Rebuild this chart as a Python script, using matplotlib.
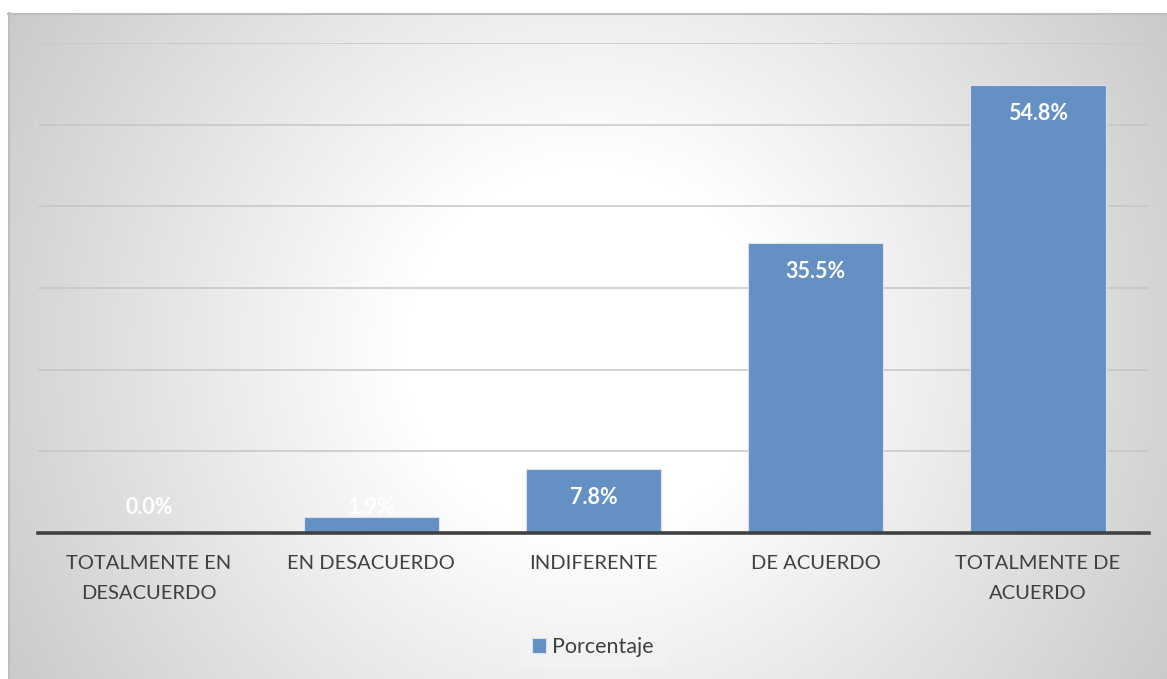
import numpy as np
import matplotlib
matplotlib.use("Agg")
import matplotlib.pyplot as plt

plt.rcParams["font.family"] = ["Lato", "DejaVu Sans"]

categories = ["TOTALMENTE EN\nDESACUERDO", "EN DESACUERDO", "INDIFERENTE",
              "DE ACUERDO", "TOTALMENTE DE\nACUERDO"]
porcentaje = [0.0, 1.9, 7.8, 35.5, 54.8]
series_name = "Porcentaje"

W, H = 1167, 679
fig = plt.figure(figsize=(W / 100, H / 100), dpi=100)
fig.patch.set_facecolor("white")

# radial background of the chart area
bg = fig.add_axes([0, 0, 1, 1])
bg.set_xlim(0, W)
bg.set_ylim(H, 0)
bg.axis("off")
x0, y0, x1, y1 = 8, 13, W, H
xx, yy = np.meshgrid(np.arange(x0, x1), np.arange(y0, y1))
cx, cy = 588, 350
r = np.hypot(xx - cx, yy - cy)
t = np.clip((r - 185) / (727 - 185), 0, 1)
shade = 1.0 - t * (1.0 - 196 / 255)
img = np.dstack([shade, shade, shade])
bg.imshow(img, extent=(x0, x1, y1, y0), interpolation="bilinear", zorder=0)
bg.plot([x0, x1], [y0 + 0.5, y0 + 0.5], color="#bdbdbd", lw=1.5, zorder=1)
bg.plot([x0 + 0.5, x0 + 0.5], [y0, y1], color="#bdbdbd", lw=1.5, zorder=1)

# plot area
left, right, top, base = 38, 1149, 43, 533
ax = fig.add_axes([left / W, 1 - base / H, (right - left) / W, (base - top) / H])
ax.patch.set_alpha(0)
ax.set_ylim(0, 60)
ax.set_xlim(-0.5, len(categories) - 0.5)
ax.set_yticks(np.arange(0, 61, 10))
ax.yaxis.grid(True, color="#c6c6c6", lw=1.1)
ax.set_axisbelow(True)
ax.tick_params(axis="y", length=0, labelleft=False)
for s in ["left", "right", "top"]:
    ax.spines[s].set_visible(False)
ax.spines["bottom"].set_color("#404040")
ax.spines["bottom"].set_linewidth(2.6)
ax.spines["bottom"].set_zorder(5)

xpos = np.arange(len(categories))
bars = ax.bar(xpos, porcentaje, width=0.61, color="#6590c4",
              edgecolor="#d9e2ef", linewidth=0.8, label=series_name, zorder=3)

ax.set_xticks(xpos)
ax.set_xticklabels(categories, fontsize=14.5, color="#404040", linespacing=1.93)
ax.tick_params(axis="x", length=0, pad=16)

# value labels inside the bar ends
px_per_unit = (base - top) / 60
for xi, v in zip(xpos, porcentaje):
    ly = max(v - 28 / px_per_unit, 26 / px_per_unit)
    ax.text(xi, ly, f"{v:.1f}%", ha="center", va="center", color="white",
            fontsize=15.5, fontweight="bold", zorder=4)

leg = fig.legend(handles=[bars], labels=[series_name], loc="center",
                 bbox_to_anchor=(593 / W, 1 - 647 / H), frameon=True,
                 fontsize=15.5, handlelength=0.65, handleheight=0.65,
                 handletextpad=0.3, borderpad=0.55)
leg.get_frame().set_facecolor("#f4f4f4")
leg.get_frame().set_edgecolor("none")
leg.get_frame().set_alpha(0.6)
for txt in leg.get_texts():
    txt.set_color("#404040")

fig.savefig("out.png", dpi=100)
